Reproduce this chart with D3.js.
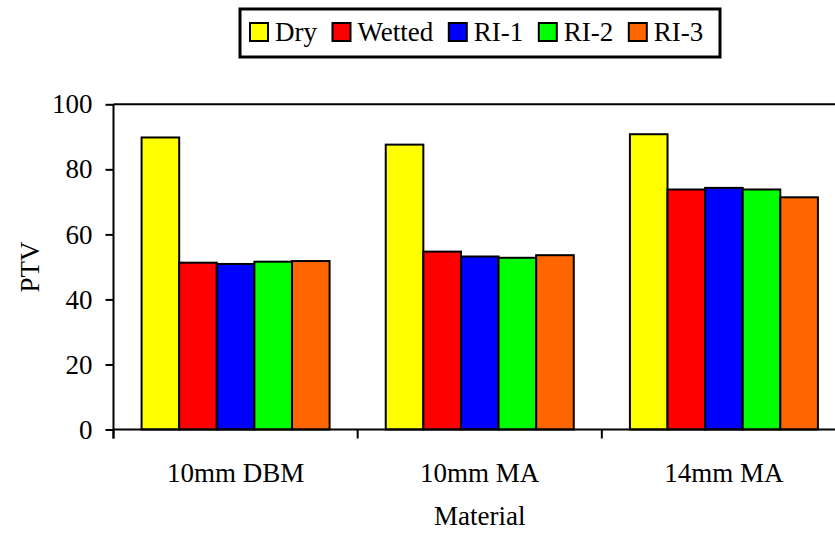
<!DOCTYPE html>
<html>
<head>
<meta charset="utf-8">
<script src="https://cdn.jsdelivr.net/npm/d3@7"></script>
<style>
  html, body { margin: 0; padding: 0; background: #fff; }
  svg { display: block; }
</style>
</head>
<body>
<svg id="chart" width="835" height="533"></svg>
<script>
const categories = ["10mm DBM", "10mm MA", "14mm MA"];
const seriesNames = ["Dry", "Wetted", "RI-1", "RI-2", "RI-3"];
const seriesColors = ["#ffff00", "#ff0000", "#0000ff", "#00ff00", "#ff6600"];
const dryValues    = [89.8, 87.6, 90.8];
const wettedValues = [51.3, 54.7, 73.8];
const ri1Values    = [50.9, 53.2, 74.3];
const ri2Values    = [51.6, 52.8, 73.8];
const ri3Values    = [51.8, 53.6, 71.4];
const yTicks = [0, 20, 40, 60, 80, 100];

const FONT = "Liberation Serif";
const FS = "27px";

const seriesValues = [dryValues, wettedValues, ri1Values, ri2Values, ri3Values];
const rows = categories.map((c, i) => ({
  category: c,
  values: seriesNames.map((s, j) => ({ series: s, value: seriesValues[j][i], color: seriesColors[j] }))
}));

const svg = d3.select("#chart");
const margin = { left: 113.5, top: 104.3, right: 846, bottom: 429.5 };

const x0 = d3.scaleBand().domain(categories).range([margin.left, margin.right]).padding(0);
const bw = x0.bandwidth();
const gap = bw * 0.115;
const x1 = d3.scaleBand().domain(seriesNames).range([gap, bw - gap]).padding(0);
const y = d3.scaleLinear().domain([0, 100]).range([margin.bottom, margin.top]);

// top border of plot area
svg.append("line")
  .attr("x1", margin.left).attr("x2", margin.right)
  .attr("y1", margin.top).attr("y2", margin.top)
  .attr("stroke", "#000").attr("stroke-width", 2);

// bars
const groups = svg.append("g").selectAll("g").data(rows).join("g")
  .attr("transform", d => `translate(${x0(d.category)},0)`);
groups.selectAll("rect").data(d => d.values).join("rect")
  .attr("x", d => x1(d.series))
  .attr("y", d => y(d.value))
  .attr("width", x1.bandwidth())
  .attr("height", d => y(0) - y(d.value))
  .attr("fill", d => d.color)
  .attr("stroke", "#000")
  .attr("stroke-width", 2);

// y axis
const yAxis = d3.axisLeft(y).tickValues(yTicks).tickSize(8).tickPadding(13);
const gy = svg.append("g").attr("transform", `translate(${margin.left},0)`).call(yAxis);
gy.select(".domain").attr("stroke", "#000").attr("stroke-width", 2)
  .attr("d", `M0,${margin.top}V${margin.bottom + 9}`);
gy.selectAll(".tick line").attr("stroke", "#000").attr("stroke-width", 2);
gy.selectAll(".tick text").style("font-family", FONT).style("font-size", FS).attr("fill", "#000");

// x axis
const xTickPos = categories.map(c => x0(c)).concat([margin.right]);
svg.append("line")
  .attr("x1", margin.left).attr("x2", margin.right)
  .attr("y1", margin.bottom).attr("y2", margin.bottom)
  .attr("stroke", "#000").attr("stroke-width", 2);
svg.append("g").selectAll("line").data(xTickPos).join("line")
  .attr("x1", d => d).attr("x2", d => d)
  .attr("y1", margin.bottom).attr("y2", margin.bottom + 9)
  .attr("stroke", "#000").attr("stroke-width", 2);
svg.append("g").selectAll("text").data(categories).join("text")
  .attr("x", d => x0(d) + bw / 2)
  .attr("y", 482)
  .attr("text-anchor", "middle")
  .style("font-family", FONT).style("font-size", FS)
  .text(d => d);

// axis titles
svg.append("text")
  .attr("x", (margin.left + margin.right) / 2)
  .attr("y", 525)
  .attr("text-anchor", "middle")
  .style("font-family", FONT).style("font-size", FS)
  .text("Material");
svg.append("text")
  .attr("transform", `translate(39,${(margin.top + margin.bottom) / 2}) rotate(-90)`)
  .attr("text-anchor", "middle")
  .style("font-family", FONT).style("font-size", FS)
  .text("PTV");

// legend
const legend = svg.append("g");
legend.append("rect")
  .attr("x", 240).attr("y", 9).attr("width", 480).attr("height", 48)
  .attr("fill", "#fff").attr("stroke", "#000").attr("stroke-width", 3);
let lx = 250;
seriesNames.forEach((s, i) => {
  legend.append("rect")
    .attr("x", lx).attr("y", 23).attr("width", 18).attr("height", 18)
    .attr("fill", seriesColors[i]).attr("stroke", "#000").attr("stroke-width", 2);
  const t = legend.append("text")
    .attr("x", lx + 25).attr("y", 41)
    .style("font-family", FONT).style("font-size", FS)
    .text(s);
  lx = lx + 25 + t.node().getComputedTextLength() + 15.5;
});
</script>
</body>
</html>
